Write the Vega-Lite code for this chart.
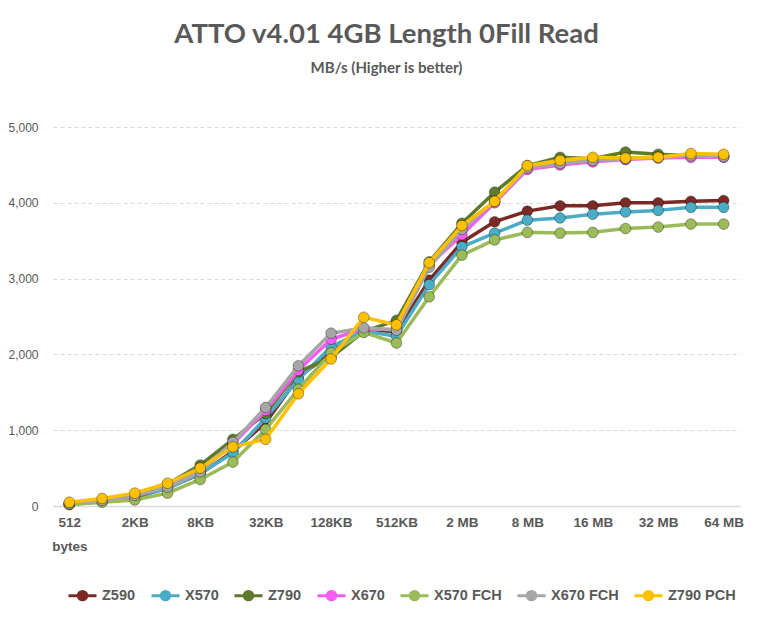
{
  "$schema": "https://vega.github.io/schema/vega-lite/v6.json",
  "autosize": {"type": "none"},
  "padding": {"left": 53, "top": 127, "right": 33, "bottom": 111},
  "background": "white",
  "title": {
    "text": "ATTO v4.01 4GB Length 0Fill Read",
    "subtitle": "MB/s (Higher is better)",
    "anchor": "middle",
    "dx": -10,
    "offset": 45,
    "font": "Lato",
    "fontSize": 27.5,
    "fontWeight": "bold",
    "color": "#595959",
    "subtitleFont": "Lato",
    "subtitleFontSize": 15,
    "subtitleFontWeight": "bold",
    "subtitleColor": "#595959",
    "subtitlePadding": 13
  },
  "data": {
    "values": [
      {"size": "512 bytes", "Z590": 25, "X570": 25, "Z790": 20, "X670": 30, "X570 FCH": 20, "X670 FCH": 35, "Z790 PCH": 50},
      {"size": "1KB", "Z590": 60, "X570": 60, "Z790": 60, "X670": 70, "X570 FCH": 50, "X670 FCH": 75, "Z790 PCH": 100},
      {"size": "2KB", "Z590": 110, "X570": 120, "Z790": 100, "X670": 130, "X570 FCH": 80, "X670 FCH": 140, "Z790 PCH": 170},
      {"size": "4KB", "Z590": 240, "X570": 230, "Z790": 290, "X670": 260, "X570 FCH": 170, "X670 FCH": 250, "Z790 PCH": 300},
      {"size": "8KB", "Z590": 420, "X570": 430, "Z790": 540, "X670": 470, "X570 FCH": 350, "X670 FCH": 450, "Z790 PCH": 500},
      {"size": "16KB", "Z590": 720, "X570": 700, "Z790": 880, "X670": 820, "X570 FCH": 580, "X670 FCH": 840, "Z790 PCH": 780},
      {"size": "32KB", "Z590": 1100, "X570": 1160, "Z790": 1220, "X670": 1260, "X570 FCH": 1010, "X670 FCH": 1300, "Z790 PCH": 880},
      {"size": "64KB", "Z590": 1700, "X570": 1670, "Z790": 1770, "X670": 1790, "X570 FCH": 1540, "X670 FCH": 1850, "Z790 PCH": 1480},
      {"size": "128KB", "Z590": 2020, "X570": 2100, "Z790": 1960, "X670": 2200, "X570 FCH": 2020, "X670 FCH": 2280, "Z790 PCH": 1940},
      {"size": "256KB", "Z590": 2330, "X570": 2310, "Z790": 2300, "X670": 2340, "X570 FCH": 2290, "X670 FCH": 2350, "Z790 PCH": 2490},
      {"size": "512KB", "Z590": 2300, "X570": 2240, "Z790": 2450, "X670": 2330, "X570 FCH": 2150, "X670 FCH": 2320, "Z790 PCH": 2390},
      {"size": "1 MB", "Z590": 2980, "X570": 2920, "Z790": 3220, "X670": 3180, "X570 FCH": 2760, "X670 FCH": 3150, "Z790 PCH": 3210},
      {"size": "2 MB", "Z590": 3480, "X570": 3420, "Z790": 3730, "X670": 3580, "X570 FCH": 3310, "X670 FCH": 3650, "Z790 PCH": 3700},
      {"size": "4 MB", "Z590": 3750, "X570": 3600, "Z790": 4140, "X670": 4000, "X570 FCH": 3510, "X670 FCH": 4020, "Z790 PCH": 4020},
      {"size": "8 MB", "Z590": 3890, "X570": 3770, "Z790": 4490, "X670": 4440, "X570 FCH": 3610, "X670 FCH": 4460, "Z790 PCH": 4490},
      {"size": "12 MB", "Z590": 3960, "X570": 3800, "Z790": 4600, "X670": 4500, "X570 FCH": 3600, "X670 FCH": 4520, "Z790 PCH": 4560},
      {"size": "16 MB", "Z590": 3960, "X570": 3850, "Z790": 4580, "X670": 4540, "X570 FCH": 3610, "X670 FCH": 4560, "Z790 PCH": 4600},
      {"size": "24 MB", "Z590": 4000, "X570": 3880, "Z790": 4670, "X670": 4570, "X570 FCH": 3660, "X670 FCH": 4580, "Z790 PCH": 4590},
      {"size": "32 MB", "Z590": 4000, "X570": 3900, "Z790": 4640, "X670": 4590, "X570 FCH": 3680, "X670 FCH": 4600, "Z790 PCH": 4600},
      {"size": "48 MB", "Z590": 4020, "X570": 3940, "Z790": 4620, "X670": 4600, "X570 FCH": 3720, "X670 FCH": 4620, "Z790 PCH": 4650},
      {"size": "64 MB", "Z590": 4030, "X570": 3940, "Z790": 4610, "X670": 4600, "X570 FCH": 3720, "X670 FCH": 4610, "Z790 PCH": 4640}
    ]
  },
  "repeat": {"layer": ["Z590", "X570", "Z790", "X670", "X570 FCH", "X670 FCH", "Z790 PCH"]},
  "spec": {
    "width": 687,
    "height": 379,
    "layer": [
      {
        "mark": {"type": "line", "strokeWidth": 3.5, "strokeJoin": "round", "strokeCap": "round"},
        "encoding": {
          "x": {
            "field": "size", "type": "ordinal", "sort": null,
            "scale": {"type": "point", "padding": 0.5},
            "axis": {
              "title": null,
              "values": ["512 bytes", "2KB", "8KB", "32KB", "128KB", "512KB", "2 MB", "8 MB", "16 MB", "32 MB", "64 MB"],
              "labelExpr": "datum.value == '512 bytes' ? ['512', 'bytes'] : datum.label",
              "labelAngle": 0,
              "labelFont": "Liberation Sans",
              "labelFontSize": 13.5,
              "labelFontWeight": "bold",
              "labelColor": "#595959",
              "labelLineHeight": 24,
              "labelPadding": 9,
              "ticks": false,
              "domainColor": "#d9d9d9",
              "domainWidth": 1.5,
              "grid": false
            }
          },
          "y": {
            "field": {"repeat": "layer"}, "type": "quantitative",
            "scale": {"domain": [0, 5000]},
            "axis": {
              "title": null,
              "values": [0, 1000, 2000, 3000, 4000, 5000],
              "format": ",.0f",
              "labelFont": "Liberation Sans",
              "labelFontSize": 12,
              "labelColor": "#595959",
              "labelPadding": 15,
              "ticks": false,
              "domain": false,
              "grid": true,
              "gridColor": "#d9d9d9",
              "gridDash": [4, 3],
              "gridWidth": 1
            }
          },
          "color": {
            "datum": {"repeat": "layer"}, "type": "nominal",
            "scale": {
              "domain": ["Z590", "X570", "Z790", "X670", "X570 FCH", "X670 FCH", "Z790 PCH"],
              "range": ["#7b2a26", "#4bacc6", "#5e7a2e", "#f55cf2", "#9bbb59", "#a6a6a6", "#ffc000"]
            },
            "legend": {
              "title": null,
              "orient": "none",
              "direction": "horizontal",
              "legendX": 14,
              "legendY": 453,
              "symbolType": "M-1,0L1,0M0.3,0A0.3,0.3,0,1,1,-0.3,0A0.3,0.3,0,1,1,0.3,0Z",
              "symbolSize": 784,
              "symbolStrokeWidth": 3,
              "symbolOpacity": 1,
              "labelFont": "Liberation Sans",
              "labelFontSize": 14.5,
              "labelFontWeight": "bold",
              "labelColor": "#595959",
              "labelOffset": 4,
              "columnPadding": 9,
              "encode": {
                "symbols": {
                  "update": {
                    "fill": {"scale": "color", "field": "value"},
                    "stroke": {"scale": "color", "field": "value"}
                  }
                }
              }
            }
          }
        }
      },
      {
        "mark": {"type": "point", "filled": true, "size": 115, "opacity": 1, "stroke": "#00000055", "strokeWidth": 1},
        "encoding": {
          "x": {"field": "size", "type": "ordinal", "sort": null, "scale": {"type": "point", "padding": 0.5}},
          "y": {"field": {"repeat": "layer"}, "type": "quantitative", "scale": {"domain": [0, 5000]}},
          "color": {
            "datum": {"repeat": "layer"}, "type": "nominal",
            "scale": {
              "domain": ["Z590", "X570", "Z790", "X670", "X570 FCH", "X670 FCH", "Z790 PCH"],
              "range": ["#7b2a26", "#4bacc6", "#5e7a2e", "#f55cf2", "#9bbb59", "#a6a6a6", "#ffc000"]
            }
          }
        }
      }
    ]
  },
  "config": {
    "view": {"stroke": null}
  }
}
